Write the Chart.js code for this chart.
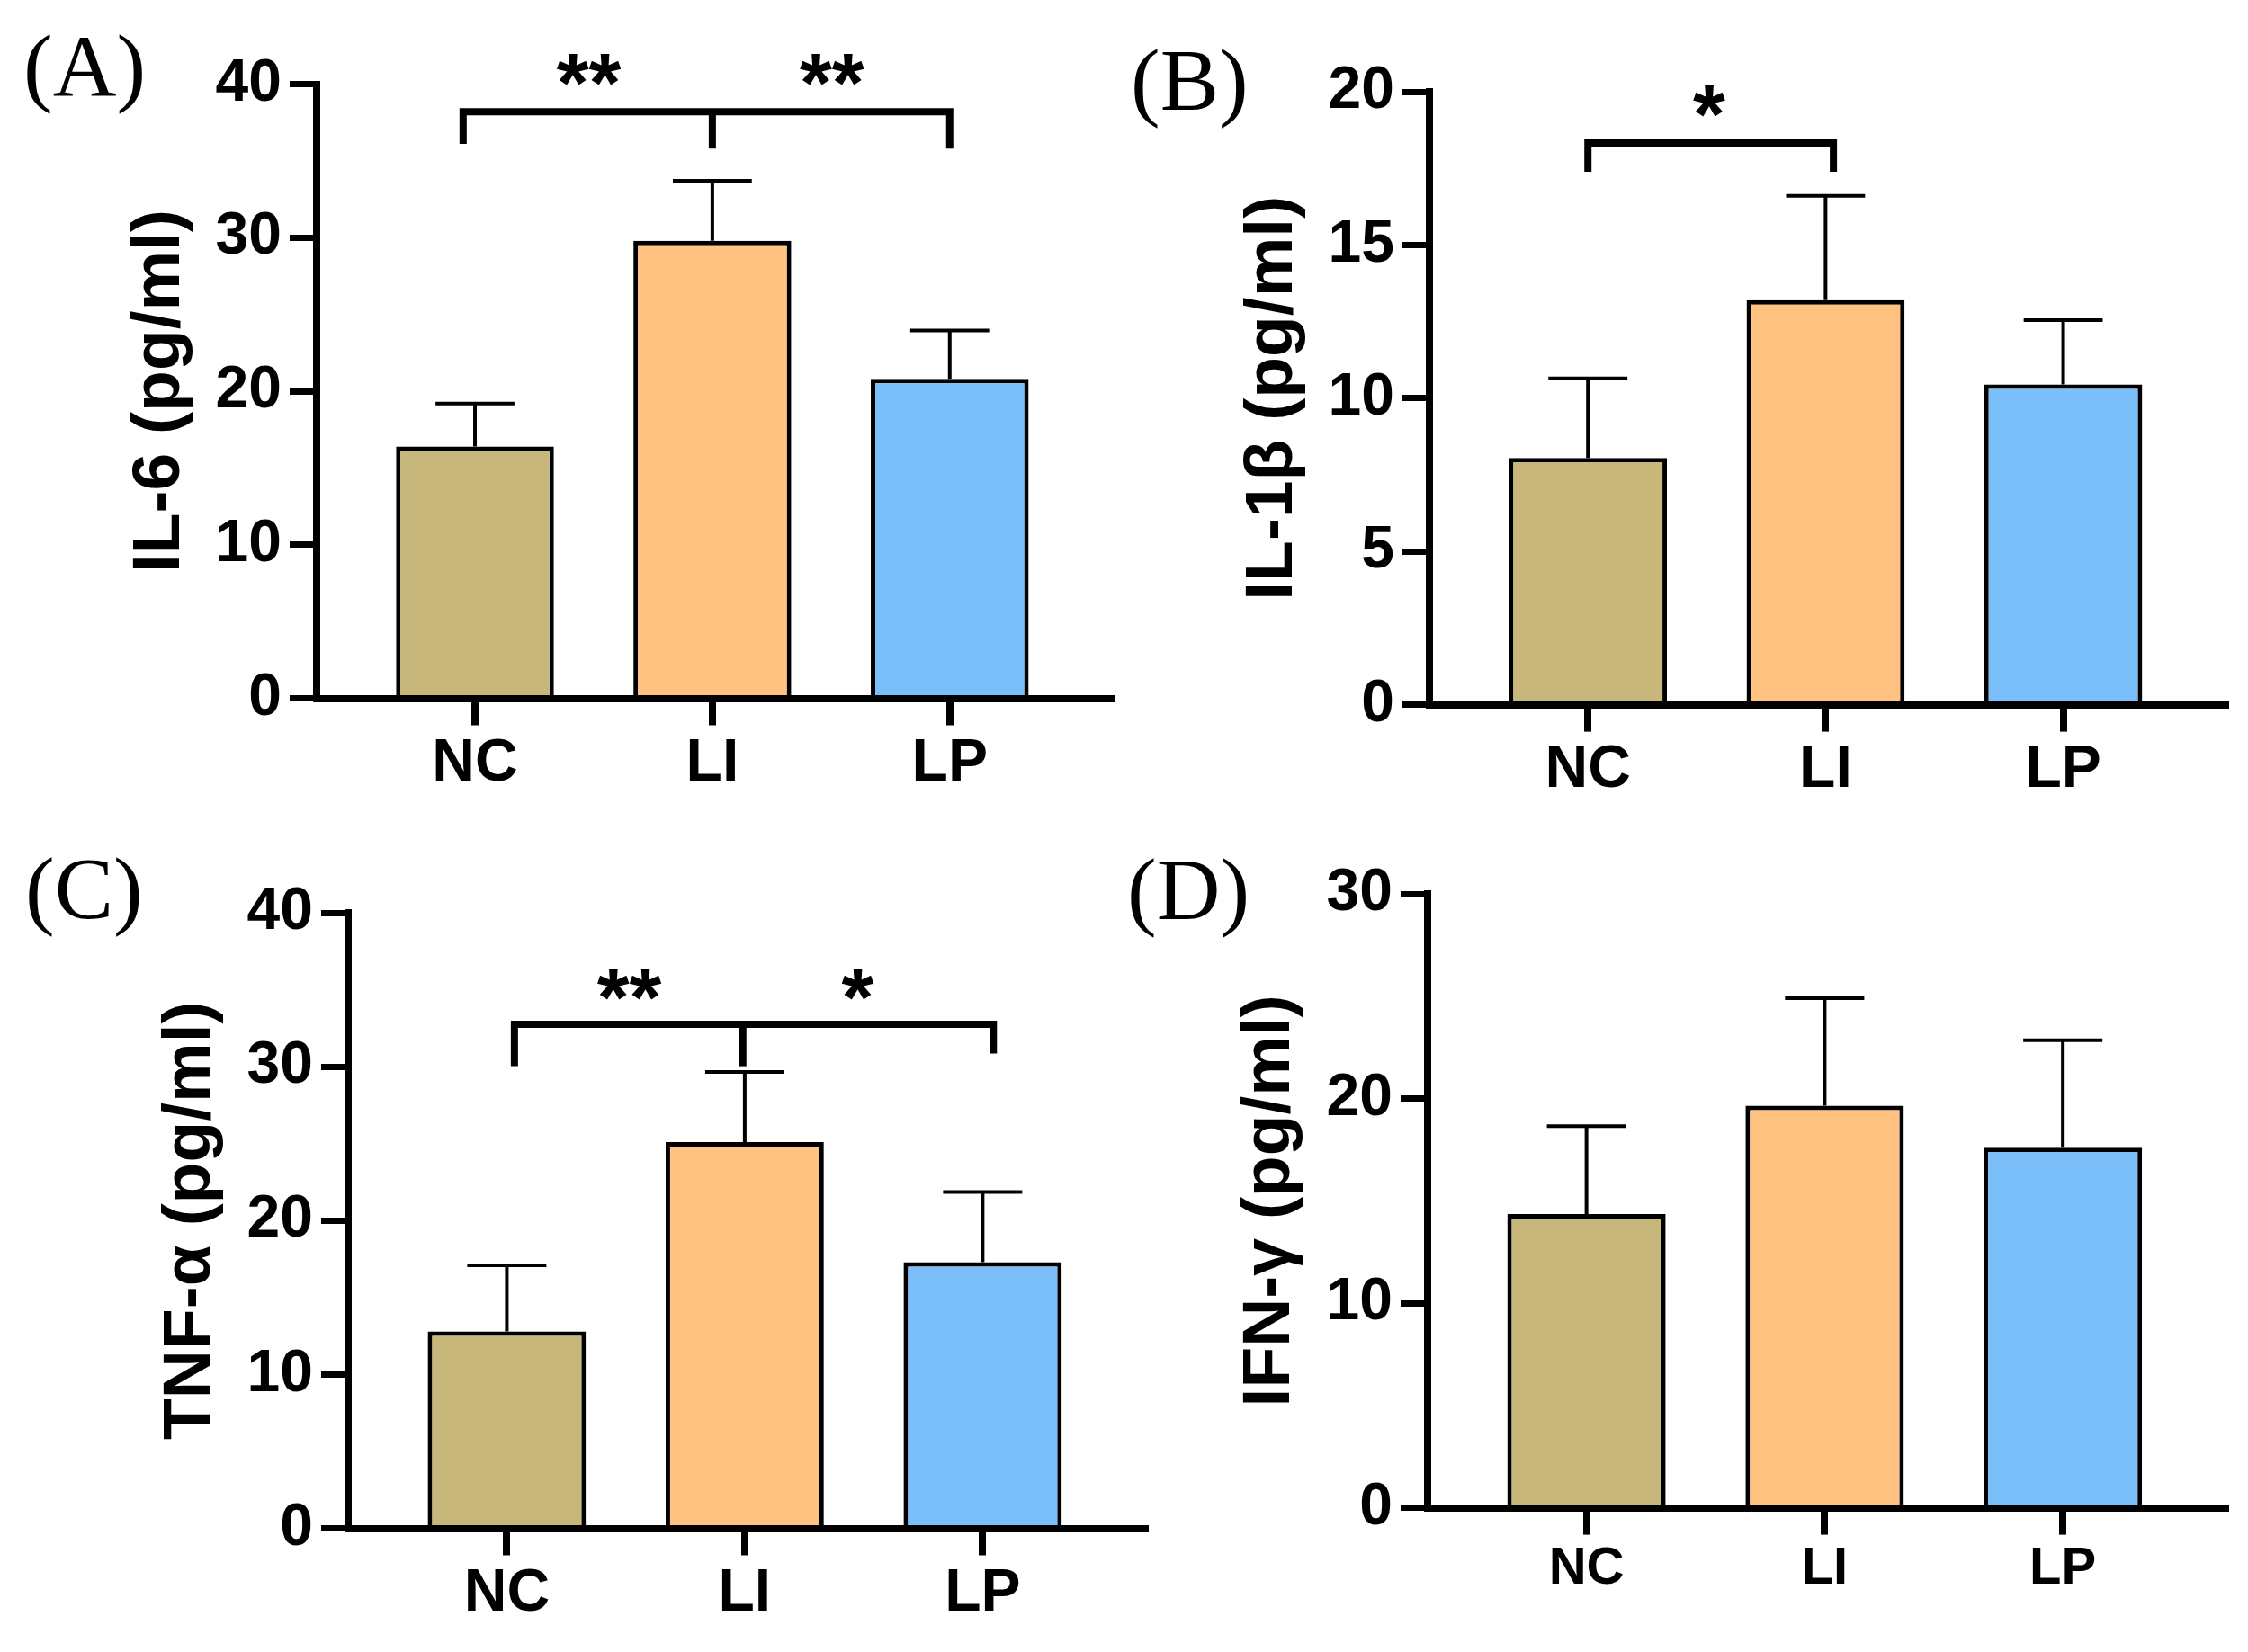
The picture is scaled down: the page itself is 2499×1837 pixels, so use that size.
<!DOCTYPE html>
<html>
<head>
<meta charset="utf-8">
<script src="https://cdn.jsdelivr.net/npm/chart.js@4.4.1/dist/chart.umd.min.js"></script>
<style>
  html, body { margin: 0; padding: 0; background: #fff; }
  body { width: 2499px; height: 1837px; position: relative; overflow: hidden; }
  canvas { position: absolute; }
</style>
</head>
<body>
<canvas id="panelA" width="1250" height="918" style="left:0;top:0"></canvas>
<canvas id="panelB" width="1249" height="918" style="left:1250px;top:0"></canvas>
<canvas id="panelC" width="1320" height="919" style="left:0;top:918px"></canvas>
<canvas id="panelD" width="1249" height="919" style="left:1250px;top:918px"></canvas>
<script>
// groups and values (mean, SD)
const groups = ['NC', 'LI', 'LP'];

const il6Mean = [16.4, 29.8, 20.8];
const il6Sd = [2.8, 3.9, 3.15];
const il1bMean = [8.05, 13.2, 10.45];
const il1bSd = [2.6, 3.4, 2.1];
const tnfMean = [12.8, 25.1, 17.3];
const tnfSd = [4.3, 4.55, 4.55];
const ifnMean = [14.35, 19.65, 17.6];
const ifnSd = [4.3, 5.25, 5.25];

// y axis ranges: [max, step]
const il6Axis = [40, 10];
const il1bAxis = [20, 5];
const tnfAxis = [40, 10];
const ifnAxis = [30, 10];

// significance brackets: drops [x, bottom y], bar height, stars [text, x, y]
const il6Sig = { drops: [[-0.05, 36.1], [1, 35.8], [2, 35.8]], lineY: 38.2,
                 stars: [['**', 0.48, 40.94], ['**', 1.504, 40.94]] };
const il1bSig = { drops: [[0, 17.39], [1.033, 17.39]], lineY: 18.33,
                  stars: [['*', 0.51, 19.7]] };
const tnfSig = { drops: [[0.032, 30.03], [0.992, 30.03], [2.045, 30.85]], lineY: 32.76,
                 stars: [['**', 0.515, 35.36], ['*', 1.475, 35.36]] };

const barFill = ['#C8B77A', '#FFC280', '#7BBFFA'];
const SANS = '"Liberation Sans", Arial, Helvetica, sans-serif';
const SERIF = '"Liberation Serif", "Times New Roman", serif';

function makePanel(id, p) {
    const extras = {
        id: 'extras',
        afterDatasetsDraw(chart) {
            const ctx = chart.ctx;
            const x = chart.scales.x, y = chart.scales.y;
            const bars = chart.getDatasetMeta(0).data;
            ctx.save();
            ctx.strokeStyle = '#000';
            ctx.lineWidth = 4;
            p.mean.forEach((m, i) => {
                const cx = x.getPixelForValue(i);
                const top = y.getPixelForValue(m);
                const cap = y.getPixelForValue(m + p.sd[i]);
                const half = bars[i].width / 4;
                ctx.beginPath();
                ctx.moveTo(cx, top);
                ctx.lineTo(cx, cap);
                ctx.moveTo(cx - half, cap);
                ctx.lineTo(cx + half, cap);
                ctx.stroke();
            });
            ctx.restore();
        },
        afterDraw(chart) {
            const ctx = chart.ctx;
            const x = chart.scales.x, y = chart.scales.y;
            ctx.save();
            if (p.sig) {
                const s = p.sig;
                const ly = y.getPixelForValue(s.lineY);
                const xs = s.drops.map(d => x.getPixelForValue(d[0]));
                const n = xs.length - 1;
                ctx.strokeStyle = '#000';
                ctx.lineWidth = 8;
                ctx.lineJoin = 'miter';
                ctx.beginPath();
                ctx.moveTo(xs[0], y.getPixelForValue(s.drops[0][1]));
                ctx.lineTo(xs[0], ly);
                ctx.lineTo(xs[n], ly);
                ctx.lineTo(xs[n], y.getPixelForValue(s.drops[n][1]));
                ctx.stroke();
                for (let k = 1; k < n; k++) {
                    ctx.beginPath();
                    ctx.moveTo(xs[k], ly);
                    ctx.lineTo(xs[k], y.getPixelForValue(s.drops[k][1]));
                    ctx.stroke();
                }
                ctx.fillStyle = '#000';
                ctx.font = 'bold 92px ' + SANS;
                ctx.textAlign = 'left';
                ctx.textBaseline = 'alphabetic';
                s.stars.forEach(st => {
                    const m = ctx.measureText(st[0]);
                    const w = m.actualBoundingBoxLeft + m.actualBoundingBoxRight;
                    const h = m.actualBoundingBoxAscent + m.actualBoundingBoxDescent;
                    const cx = x.getPixelForValue(st[1]);
                    const cy = y.getPixelForValue(st[2]);
                    ctx.fillText(st[0], cx - w / 2 + m.actualBoundingBoxLeft,
                                 cy - h / 2 + m.actualBoundingBoxAscent);
                });
            }
            // panel letter
            ctx.fillStyle = '#000';
            ctx.font = '98px ' + SERIF;
            ctx.textAlign = 'left';
            ctx.textBaseline = 'alphabetic';
            const lm = ctx.measureText(p.letter);
            ctx.fillText(p.letter, p.letterAt[0] + lm.actualBoundingBoxLeft,
                         p.letterAt[1] + lm.actualBoundingBoxAscent);
            ctx.restore();
        }
    };

    return new Chart(document.getElementById(id).getContext('2d'), {
        type: 'bar',
        data: {
            datasets: [{
                data: groups.map((g, i) => ({ x: i, y: p.mean[i] })),
                backgroundColor: barFill,
                borderColor: '#000',
                borderWidth: 5,
                borderSkipped: 'start',
                barPercentage: 0.665,
                categoryPercentage: 1
            }]
        },
        options: {
            responsive: false,
            animation: false,
            devicePixelRatio: 1,
            layout: { padding: p.pad },
            plugins: { legend: { display: false }, tooltip: { enabled: false } },
            scales: {
                x: {
                    type: 'linear',
                    min: -0.667,
                    max: 2.683,
                    offset: false,
                    afterBuildTicks: s => { s.ticks = groups.map((g, i) => ({ value: i })); },
                    afterFit: s => { s.height = p.xH; },
                    border: { display: true, color: '#000', width: 8, z: 1 },
                    grid: { offset: false, drawOnChartArea: false, drawTicks: true, tickLength: 30, color: '#000', lineWidth: 8 },
                    ticks: {
                        autoSkip: false, maxRotation: 0, padding: 4, color: '#000',
                        font: { family: SANS, size: p.xFont, weight: 'bold' },
                        callback: v => groups[v]
                    }
                },
                y: {
                    min: 0,
                    max: p.axis[0],
                    afterFit: s => { s.width = p.yW; },
                    border: { display: true, color: '#000', width: 8 },
                    grid: { drawOnChartArea: false, drawTicks: true, tickLength: 30, color: '#000', lineWidth: 7 },
                    ticks: {
                        stepSize: p.axis[1], padding: 9, color: '#000',
                        font: { family: SANS, size: 66, weight: 'bold' }
                    },
                    title: {
                        display: true, text: p.title, color: '#000',
                        font: { family: SANS, size: 75, weight: 'bold' },
                        padding: { top: p.titlePad, bottom: 0 }
                    }
                }
            }
        },
        plugins: [extras]
    });
}

makePanel('panelA', {
    mean: il6Mean, sd: il6Sd, axis: il6Axis, sig: il6Sig,
    title: 'IL-6 (pg/ml)', letter: '(A)', letterAt: [30, 38],
    pad: { left: 0, top: 93.5, right: 14, bottom: 0 }, yW: 352, xH: 141.5, xFont: 66, titlePad: 133.5
});
makePanel('panelB', {
    mean: il1bMean, sd: il1bSd, axis: il1bAxis, sig: il1bSig,
    title: 'IL-1β (pg/ml)', letter: '(B)', letterAt: [11, 54],
    pad: { left: 0, top: 102, right: 25, bottom: 0 }, yW: 339, xH: 134.4, xFont: 66, titlePad: 120.5
});
makePanel('panelC', {
    mean: tnfMean, sd: tnfSd, axis: tnfAxis, sig: tnfSig,
    title: 'TNF-α (pg/ml)', letter: '(C)', letterAt: [32, 35],
    pad: { left: 0, top: 97, right: 47, bottom: 0 }, yW: 387, xH: 137.5, xFont: 66, titlePad: 167.5
});
makePanel('panelD', {
    mean: ifnMean, sd: ifnSd, axis: ifnAxis, sig: null,
    title: 'IFN-γ (pg/ml)', letter: '(D)', letterAt: [7, 36],
    pad: { left: 0, top: 76, right: 25, bottom: 0 }, yW: 337, xH: 160.4, xFont: 58, titlePad: 117.5
});
</script>
</body>
</html>
